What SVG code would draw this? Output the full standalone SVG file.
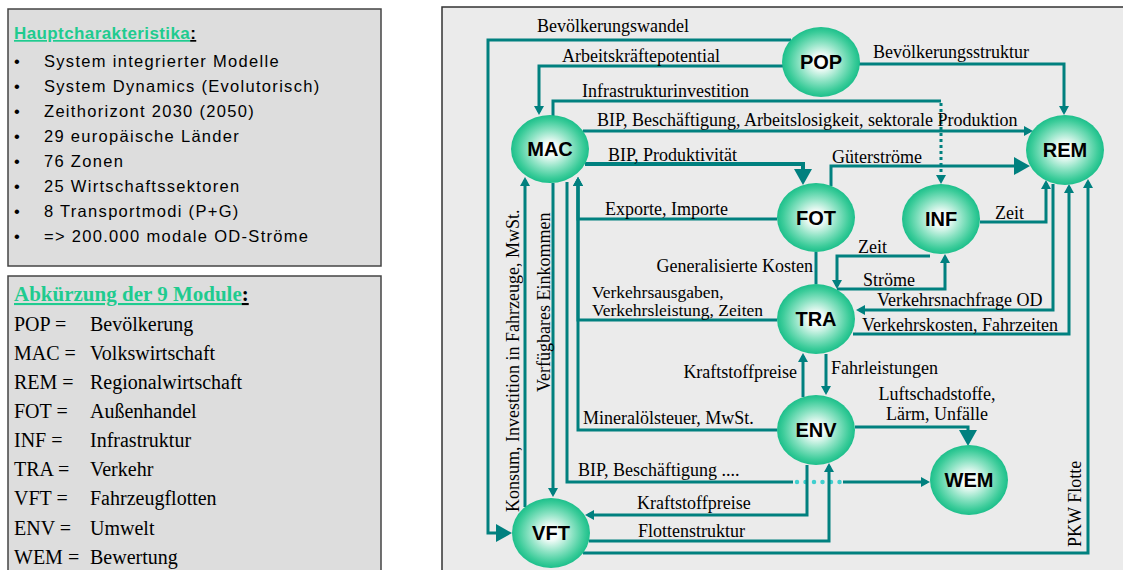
<svg xmlns="http://www.w3.org/2000/svg" width="1123" height="570" viewBox="0 0 1123 570">
<defs>
<radialGradient id="g" cx="50%" cy="50%" r="50%">
<stop offset="0" stop-color="#ffffff"/>
<stop offset="0.2" stop-color="#f4fcf9"/>
<stop offset="0.55" stop-color="#8de3c4"/>
<stop offset="0.85" stop-color="#3ccc9a"/>
<stop offset="1" stop-color="#1cbf8b"/>
</radialGradient>
<marker id="a" viewBox="0 0 9 10" refX="6" refY="5" markerWidth="9" markerHeight="10" markerUnits="userSpaceOnUse" orient="auto">
<path d="M0,0 L9,5 L0,10 z" fill="#00807f"/>
</marker>
<marker id="A" viewBox="0 0 16 18" refX="12" refY="9" markerWidth="16" markerHeight="18" markerUnits="userSpaceOnUse" orient="auto">
<path d="M0,0 L16,9 L0,18 z" fill="#00807f"/>
</marker>
</defs>
<style>
.c{fill:none;stroke:#00807f;stroke-width:3}
.t4{stroke-width:4}
.dot{fill:none;stroke:#00807f;stroke-width:3;stroke-dasharray:3 3}
.cy{fill:none;stroke:#40cfcf;stroke-width:4.5;stroke-linecap:round;stroke-dasharray:0 8.5}
.l{font-family:"Liberation Serif","Times New Roman",serif;font-size:18px;fill:#000}
.n ellipse{fill:url(#g)}
.n text{font-family:"Liberation Sans",Arial,sans-serif;font-weight:bold;font-size:20px;text-anchor:middle;fill:#000}
.s{font-family:"Liberation Sans",Arial,sans-serif;font-size:16.5px;letter-spacing:1.3px;fill:#000}
.r{font-family:"Liberation Serif","Times New Roman",serif;font-size:20px;fill:#000}
</style>

<g id="box-haupt">
<rect x="8" y="9" width="373" height="257" fill="#dddddd" stroke="#444" stroke-width="1.5"/>
<text x="14" y="39" font-family="Liberation Sans, Arial, sans-serif" font-weight="bold" font-size="17px" letter-spacing="0.4px"><tspan fill="#1fcb8f" text-decoration="underline">Hauptcharakteristika</tspan><tspan fill="#000" text-decoration="underline">:</tspan></text>
<g class="s">
<text x="14" y="67">•</text><text x="44" y="67">System integrierter Modelle</text>
<text x="14" y="92">•</text><text x="44" y="92">System Dynamics (Evolutorisch)</text>
<text x="14" y="117">•</text><text x="44" y="117">Zeithorizont 2030 (2050)</text>
<text x="14" y="142">•</text><text x="44" y="142">29 europäische Länder</text>
<text x="14" y="167">•</text><text x="44" y="167">76 Zonen</text>
<text x="14" y="192">•</text><text x="44" y="192">25 Wirtschaftssektoren</text>
<text x="14" y="217">•</text><text x="44" y="217">8 Transportmodi (P+G)</text>
<text x="14" y="242">•</text><text x="44" y="242">=&gt; 200.000 modale OD-Ströme</text>
</g>
</g>

<g id="box-module">
<rect x="8" y="276" width="373" height="310" fill="#dddddd" stroke="#444" stroke-width="1.5"/>
<text x="14" y="301" font-family="Liberation Serif, Times New Roman, serif" font-weight="bold" font-size="21px"><tspan fill="#1fcb8f" text-decoration="underline">Abkürzung der 9 Module</tspan><tspan fill="#000" text-decoration="underline">:</tspan></text>
<g class="r">
<text x="14" y="331">POP =</text><text x="90" y="331">Bevölkerung</text>
<text x="14" y="360">MAC =</text><text x="90" y="360">Volkswirtschaft</text>
<text x="14" y="389">REM =</text><text x="90" y="389">Regionalwirtschaft</text>
<text x="14" y="418">FOT =</text><text x="90" y="418">Außenhandel</text>
<text x="14" y="447">INF =</text><text x="90" y="447">Infrastruktur</text>
<text x="14" y="476">TRA =</text><text x="90" y="476">Verkehr</text>
<text x="14" y="505">VFT =</text><text x="90" y="505">Fahrzeugflotten</text>
<text x="14" y="535">ENV =</text><text x="90" y="535">Umwelt</text>
<text x="14" y="564">WEM =</text><text x="90" y="564">Bewertung</text>
</g>
</g>

<rect id="frame" x="442" y="7" width="700" height="580" fill="#ebebeb" stroke="#333" stroke-width="1.5"/>

<g id="connectors">
<path class="c" d="M791,40 H488 V533 H508" marker-end="url(#A)"/>
<path class="c" d="M783,66 H539 V112" marker-end="url(#a)"/>
<path class="c" d="M859,64 H1064 V112" marker-end="url(#a)"/>
<path class="c" d="M553,116 V101 H941"/>
<path class="dot" d="M941,103 V181" marker-end="url(#a)"/>
<path class="c" d="M583,131 H1030" marker-end="url(#a)"/>
<path class="c t4" d="M585,164 H803 V181" marker-end="url(#A)"/>
<path class="c" d="M831,186 V166 H1026" marker-end="url(#A)"/>
<path class="c" d="M777,219 H578 V180" marker-end="url(#a)"/>
<path class="c" d="M777,320 H578 V180" marker-end="url(#a)"/>
<path class="c" d="M777,430 H578 V180" marker-end="url(#a)"/>
<path class="c" d="M553,183 V494" marker-end="url(#a)"/>
<path class="c" d="M567,182 V482 H793"/>
<path class="cy" d="M797,482 H840"/>
<path class="c" d="M843,482 H927" marker-end="url(#a)"/>
<path class="c" d="M525,507 V180" marker-end="url(#a)"/>
<path class="c" d="M816,252 V284"/>
<path class="c" d="M930,256 H837 V286" marker-end="url(#a)"/>
<path class="c" d="M837,289 H945 V257" marker-end="url(#a)"/>
<path class="c" d="M980,222 H1046 V183" marker-end="url(#a)"/>
<path class="c" d="M1053,184 V310 H859" marker-end="url(#a)"/>
<path class="c" d="M853,334 H1069 V187" marker-end="url(#a)"/>
<path class="c" d="M583,553 H1088 V182" marker-end="url(#a)"/>
<path class="c" d="M803,397 V356" marker-end="url(#a)"/>
<path class="c" d="M826,354 V392" marker-end="url(#a)"/>
<path class="c" d="M855,427 H968 V442" marker-end="url(#A)"/>
<path class="c" d="M807,465 V515 H588" marker-end="url(#a)"/>
<path class="c" d="M589,541 H829 V466" marker-end="url(#a)"/>

<g class="l">
<text x="537" y="32">Bevölkerungswandel</text>
<text x="562" y="62">Arbeitskräftepotential</text>
<text x="873" y="58">Bevölkerungsstruktur</text>
<text x="582" y="97">Infrastrukturinvestition</text>
<text x="597" y="126">BIP, Beschäftigung, Arbeitslosigkeit, sektorale Produktion</text>
<text x="608" y="161">BIP, Produktivität</text>
<text x="832" y="163">Güterströme</text>
<text x="605" y="215">Exporte, Importe</text>
<text x="995" y="219">Zeit</text>
<text x="858" y="253">Zeit</text>
<text x="813" y="272" text-anchor="end">Generalisierte Kosten</text>
<text x="863" y="286">Ströme</text>
<text x="592" y="298" font-size="17.5px">Verkehrsausgaben,</text>
<text x="592" y="316" font-size="17.5px">Verkehrsleistung, Zeiten</text>
<text x="877" y="306">Verkehrsnachfrage OD</text>
<text x="862" y="331">Verkehrskosten, Fahrzeiten</text>
<text x="831" y="374">Fahrleistungen</text>
<text x="797" y="378" text-anchor="end">Kraftstoffpreise</text>
<text x="937" y="400" text-anchor="middle">Luftschadstoffe,</text>
<text x="937" y="420" text-anchor="middle">Lärm, Unfälle</text>
<text x="583" y="424">Mineralölsteuer, MwSt.</text>
<text x="578" y="476">BIP, Beschäftigung ....</text>
<text x="637" y="509">Kraftstoffpreise</text>
<text x="638" y="537">Flottenstruktur</text>
<text transform="translate(519,512) rotate(-90)">Konsum, Investition in Fahrzeuge, MwSt.</text>
<text transform="translate(550,392) rotate(-90)">Verfügbares Einkommen</text>
<text transform="translate(1081,547) rotate(-90)">PKW Flotte</text>
</g>
</g>

<g id="POP" class="n"><ellipse cx="821" cy="62" rx="39" ry="35"/><text x="821" y="69">POP</text></g>
<g id="MAC" class="n"><ellipse cx="550" cy="149" rx="39" ry="34"/><text x="550" y="156">MAC</text></g>
<g id="REM" class="n"><ellipse cx="1065" cy="150" rx="39" ry="35"/><text x="1065" y="157">REM</text></g>
<g id="FOT" class="n"><ellipse cx="816" cy="217.5" rx="39" ry="34.5"/><text x="816" y="224.5">FOT</text></g>
<g id="INF" class="n"><ellipse cx="941" cy="219" rx="39" ry="35"/><text x="941" y="226">INF</text></g>
<g id="TRA" class="n"><ellipse cx="816" cy="319" rx="39" ry="35"/><text x="816" y="326">TRA</text></g>
<g id="ENV" class="n"><ellipse cx="816" cy="430" rx="39" ry="35"/><text x="816" y="437">ENV</text></g>
<g id="WEM" class="n"><ellipse cx="969" cy="480" rx="39" ry="35"/><text x="969" y="487">WEM</text></g>
<g id="VFT" class="n"><ellipse cx="551" cy="533" rx="39" ry="35"/><text x="551" y="540">VFT</text></g>
</svg>
